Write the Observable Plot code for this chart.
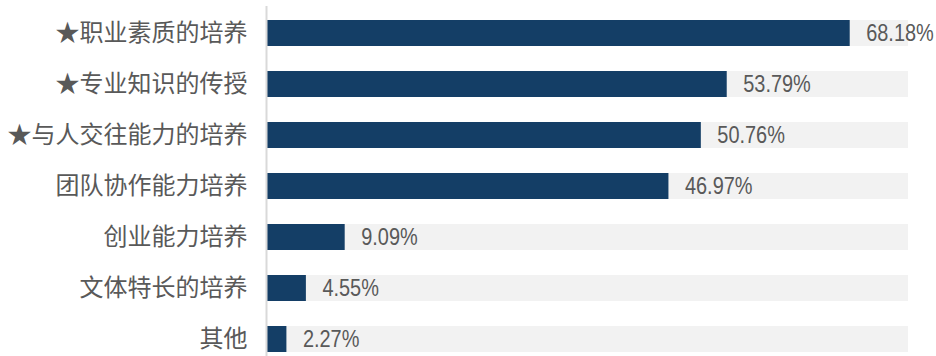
<!DOCTYPE html>
<html>
<head>
<meta charset="utf-8">
<script src="https://cdn.jsdelivr.net/npm/d3@7"></script>
<script src="https://cdn.jsdelivr.net/npm/@observablehq/plot@0.6"></script>
<style>
  html, body { margin: 0; padding: 0; background: #ffffff; }
  #chart svg { display: block; }
</style>
</head>
<body>
<div id="chart"></div>
<script>
const categories = ["★职业素质的培养", "★专业知识的传授", "★与人交往能力的培养", "团队协作能力培养", "创业能力培养", "文体特长的培养", "其他"];
const values = [68.18, 53.79, 50.76, 46.97, 9.09, 4.55, 2.27];
const trackMax = 75;

const data = categories.map((c, i) => ({category: c, value: values[i]}));

const chart = Plot.plot({
  width: 936,
  height: 356,
  marginLeft: 267,
  marginRight: 28,
  marginTop: 19,
  marginBottom: 3,
  style: {fontFamily: "'Noto Sans CJK SC', sans-serif", background: "#ffffff"},
  x: {domain: [0, trackMax], axis: null},
  y: {domain: categories, paddingInner: 0.49, paddingOuter: 0, label: null},
  marks: [
    Plot.barX(data, {x: () => trackMax, y: "category", fill: "#f2f2f2"}),
    Plot.barX(data, {x: "value", y: "category", fill: "#143e66"}),
    Plot.ruleX([0], {stroke: "#d9d9d9", strokeWidth: 2, dx: -1, insetTop: -13, insetBottom: -3}),
    Plot.text(data, {
      x: "value", y: "category",
      text: d => d.value.toFixed(2) + "%",
      textAnchor: "start", dx: 16,
      fill: "#595959", fontSize: 24,
      fontFamily: "'Liberation Sans', Arial, sans-serif",
      className: "value-label"
    }),
    Plot.axisY({tickSize: 0, tickPadding: 20, fontSize: 24, color: "#595959", label: null})
  ]
});
document.getElementById("chart").appendChild(chart);

// Narrow the value labels to mimic a condensed typeface
d3.select(chart).selectAll(".value-label text").each(function () {
  const w = this.getComputedTextLength();
  this.setAttribute("textLength", (w * 0.83).toFixed(2));
  this.setAttribute("lengthAdjust", "spacingAndGlyphs");
});
</script>
</body>
</html>
